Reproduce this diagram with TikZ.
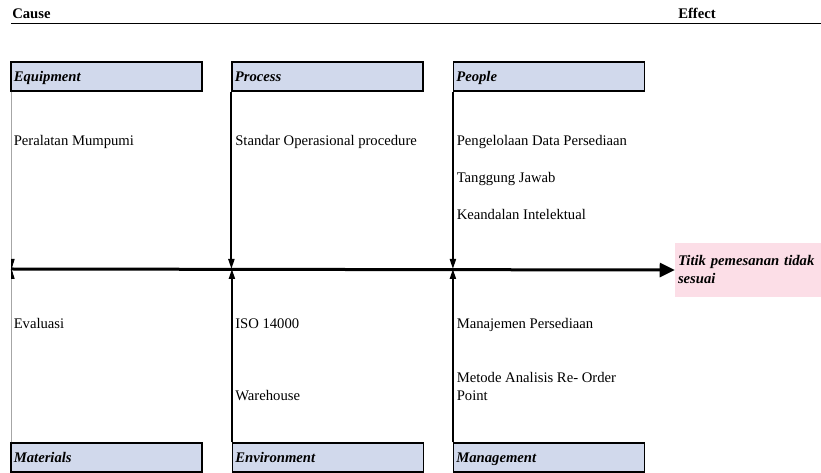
\documentclass[tikz,border=0pt]{standalone}
\usepackage{fontspec}
\setmainfont{Liberation Serif}
\usetikzlibrary{arrows.meta}
\definecolor{hdrfill}{RGB}{209,217,236}
\definecolor{pinkfill}{RGB}{252,222,231}
\begin{document}
\begin{tikzpicture}[x=0.75pt,y=-0.75pt,
  every node/.style={font=\fontsize{11pt}{13.5pt}\selectfont},
  hdr/.style={draw=black, line width=0.9pt, fill=hdrfill,
    minimum width=143.25pt, minimum height=21.75pt, text width=139pt,
    inner xsep=2pt, inner ysep=0pt, align=left, text height=8.5pt, text depth=1pt,
    font=\fontsize{11pt}{13.5pt}\selectfont\bfseries\itshape},
  item/.style={anchor=base west, inner sep=0pt, align=left},
  title/.style={anchor=base west, inner sep=0pt, font=\fontsize{11pt}{13.5pt}\selectfont\bfseries},
  bone/.style={line width=1.5pt, -{Triangle[length=7.5pt,width=4.5pt]}},
  spine/.style={line width=2.25pt, -{Triangle[length=11.25pt,width=10.5pt]}},
  effbox/.style={fill=pinkfill, minimum width=109.5pt, minimum height=40.5pt,
    text width=105pt, inner xsep=2.25pt, inner ysep=0pt, align=left,
    font=\fontsize{11pt}{13.5pt}\selectfont\bfseries\itshape}]
\useasboundingbox (0,0) rectangle (821,473);

% header line
\node[title] (cause) at (12,18.3) {Cause};
\node[title] (effect) at (678,18.3) {Effect};
\coordinate (tl) at (11,23.3);
\coordinate (tr) at (821,23.3);
\draw[line width=1pt] (tl) -- (tr);

% category boxes
\node[hdr] (eq)  at (106.5,76.5) {Equipment};
\node[hdr] (pr)  at (327.5,76.5) {Process};
\node[hdr] (pe)  at (549,76.5)   {People};
\node[hdr] (mat) at (106.5,457.5) {Materials};
\node[hdr] (env) at (328,457.5)   {Environment};
\node[hdr] (mgt) at (549,457.5)   {Management};

% effect
\node[effbox] (eff) at (748,270) {Titik pemesanan tidak\\sesuai};

% spine
\coordinate (axs) at (11,269);
\draw[spine] (axs) -- (eff.west);

% bones
\begin{scope}
  \clip (11.2,0) rectangle (821,473);
  \draw[bone, draw=gray!70, line width=0.7pt, -{Triangle[length=7.5pt,width=4.5pt,color=black]}]
    ([xshift=0.9pt]eq.south west) -- ([xshift=0.9pt]eq.south west |- axs);
  \draw[bone, draw=gray!70, line width=0.7pt, -{Triangle[length=7.5pt,width=4.5pt,color=black]}]
    ([xshift=0.9pt]mat.north west) -- ([xshift=0.9pt]mat.north west |- axs);
\end{scope}
\draw[bone] (pr.south west) -- (pr.south west |- axs);
\draw[bone] (pe.south west) -- (pe.south west |- axs);
\draw[bone] (env.north west) -- (env.north west |- axs);
\draw[bone] (mgt.north west) -- (mgt.north west |- axs);

% causes
\node[item] (c1) at (13.5,146) {Peralatan Mumpumi};
\node[item] (c2) at (235,146) {Standar Operasional procedure};
\node[item] (c3) at (456.5,146) {Pengelolaan Data Persediaan};
\node[item] (c4) at (456.5,182.7) {Tanggung Jawab};
\node[item] (c5) at (456.5,220) {Keandalan Intelektual};
\node[item] (c6) at (13.5,329) {Evaluasi};
\node[item] (c7) at (235,329) {ISO 14000};
\node[item] (c8) at (235,401) {Warehouse};
\node[item] (c9) at (456.5,329) {Manajemen Persediaan};
\node[item] (c10) at (456.5,401) {Metode Analisis Re- Order\\Point};
\end{tikzpicture}
\end{document}
